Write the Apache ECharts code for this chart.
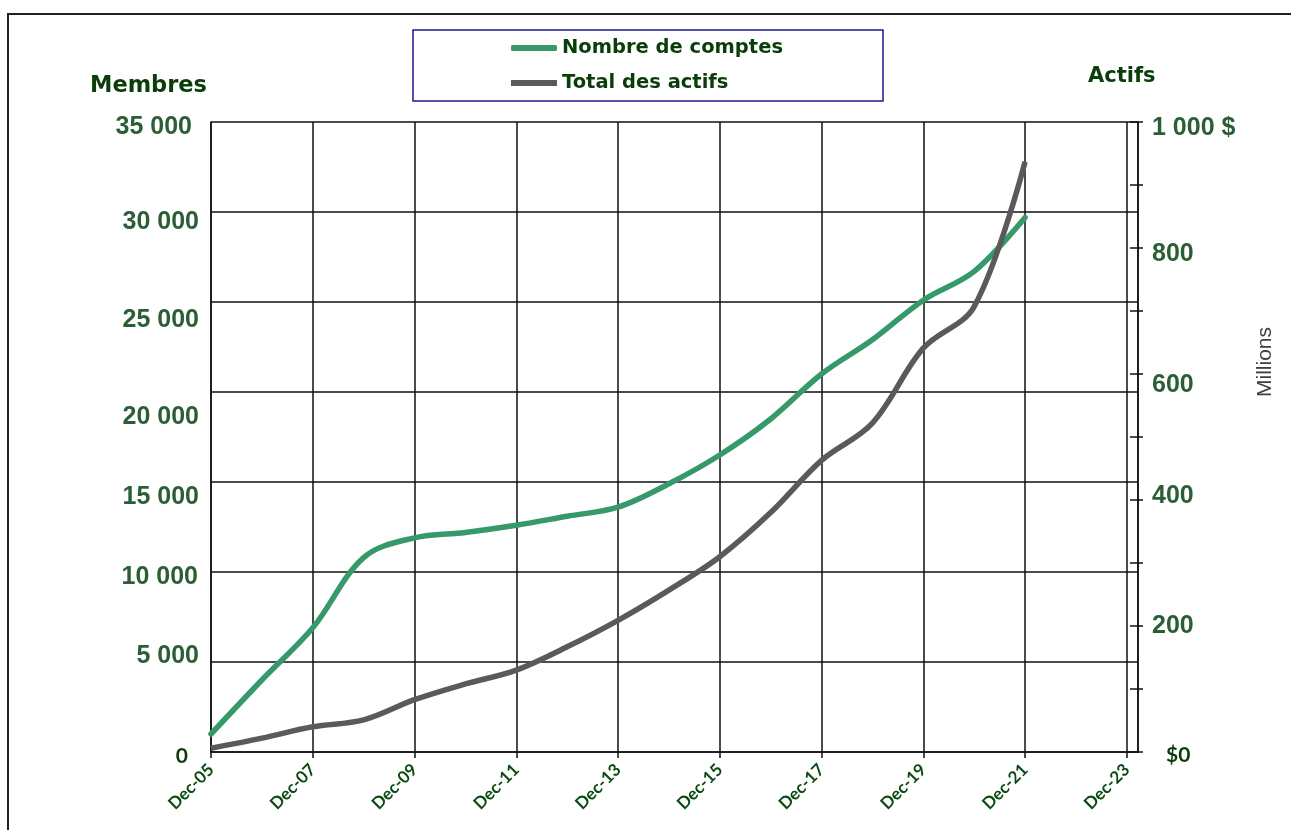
<!DOCTYPE html>
<html>
<head>
<meta charset="utf-8">
<script src="https://cdn.jsdelivr.net/npm/echarts@6/dist/echarts.min.js"></script>
<style>html,body{margin:0;padding:0;background:#fff;}#c{width:1291px;height:830px;}</style>
</head>
<body>
<div id="c"></div>
<script>
const categories = ['Dec-05','Dec-06','Dec-07','Dec-08','Dec-09','Dec-10','Dec-11','Dec-12','Dec-13','Dec-14','Dec-15','Dec-16','Dec-17','Dec-18','Dec-19','Dec-20','Dec-21'];
const comptes = [1000, 4000, 6900, 10800, 11900, 12200, 12600, 13100, 13600, 14900, 16500, 18500, 21000, 22900, 25100, 26700, 29700];
const actifs = [6, 22, 40, 51, 83, 108, 130, 167, 209, 257, 310, 380, 463, 522, 641, 707, 937];
const xTickLabels = ['Dec-05','Dec-07','Dec-09','Dec-11','Dec-13','Dec-15','Dec-17','Dec-19','Dec-21','Dec-23'];
const leftTickLabels = {0:'0',5000:'5 000',10000:'10 000',15000:'15 000',20000:'20 000',25000:'25 000',30000:'30 000',35000:'35 000'};
const rightTickLabels = {0:'$0',200:'200',400:'400',600:'600',800:'800',1000:'1 000 $'};

const chart = echarts.init(document.getElementById('c'));
const gridLine = {show:true, lineStyle:{color:'#111', width:1.5}};
const leftFont = {fontFamily:'Liberation Sans', fontWeight:'bold', fontSize:25, color:'#2b5e34'};
const option = {
  animation:false,
  backgroundColor:'#fff',
  grid:{left:211, right:153, top:122, bottom:78, containLabel:false},
  legend:{
    orient:'vertical', left:506, top:33, itemWidth:46, itemHeight:6, itemGap:15,
    textStyle:{fontFamily:'DejaVu Sans', fontWeight:'bold', fontSize:19.5, color:'#0b3d0b', lineHeight:20},
    data:[{name:'Nombre de comptes', icon:'roundRect'},{name:'Total des actifs', icon:'rect'}]
  },
  xAxis:{
    type:'value', min:0, max:18.22, interval:2,
    axisLine:{show:true, lineStyle:{color:'#111', width:1.5}},
    axisTick:{show:true, length:6, lineStyle:{color:'#111', width:1.5}},
    splitLine:gridLine,
    axisLabel:{
      rotate:45, margin:15, showMaxLabel:false,
      fontFamily:'Lato', fontWeight:'bold', fontSize:17, color:'#0b4a12',
      formatter:function(v){ const k=Math.round(v); if(Math.abs(v-k)>1e-6||k%2) return ''; return xTickLabels[k/2]||''; }
    }
  },
  yAxis:[
    {
      type:'value', min:0, max:35000, interval:5000, position:'left',
      axisLine:{show:true, lineStyle:{color:'#111', width:1.5}},
      axisTick:{show:false},
      splitLine:gridLine,
      axisLabel:{
        margin:12,
        formatter:function(v){ return '{k'+v+'|'+(leftTickLabels[v]||'')+'}'; },
        rich:{
          k35000:Object.assign({padding:[11,7,0,0]}, leftFont),
          k30000:Object.assign({padding:[20,0,0,0]}, leftFont),
          k25000:Object.assign({padding:[36,0,0,0]}, leftFont),
          k20000:Object.assign({padding:[50,0,0,0]}, leftFont),
          k15000:Object.assign({padding:[30,0,0,0]}, leftFont),
          k10000:Object.assign({padding:[10,1,0,0]}, leftFont),
          k5000:Object.assign({padding:[0,0,12,0]}, leftFont),
          k0:{padding:[8,11,0,0], fontFamily:'Lato', fontWeight:'bold', fontSize:21, color:'#0b3d0b'}
        }
      }
    },
    {
      type:'value', min:0, max:1000, interval:100, position:'right',
      axisLine:{show:true, lineStyle:{color:'#111', width:1.5}},
      axisTick:{show:true, length:5, lineStyle:{color:'#111', width:1.5}},
      splitLine:{show:false},
      axisLabel:{
        margin:14,
        formatter:function(v){ const t=rightTickLabels[v]; if(t===undefined) return ''; return '{r'+v+'|'+t+'}'; },
        rich:{
          r1000:Object.assign({padding:[12,0,0,0]}, leftFont),
          r800:Object.assign({padding:[12,0,0,0]}, leftFont),
          r600:Object.assign({padding:[22,0,0,0]}, leftFont),
          r400:Object.assign({padding:[0,0,8,0]}, leftFont),
          r200:Object.assign({}, leftFont),
          r0:{padding:[6,0,0,14], fontFamily:'Lato', fontWeight:'bold', fontSize:21, color:'#0b3d0b'}
        }
      }
    },
    {
      type:'value', min:0, max:1000, interval:100, position:'right',
      axisLine:{show:false},
      axisTick:{show:true, inside:true, length:8, lineStyle:{color:'#111', width:1.5}},
      axisLabel:{show:false},
      splitLine:{show:false}
    }
  ],
  series:[
    {
      name:'Nombre de comptes', type:'line', yAxisIndex:0, smooth:0.35, symbol:'none',
      lineStyle:{color:'#36996a', width:5.5, cap:'round'}, itemStyle:{color:'#36996a'},
      data:categories.map(function(c,i){ return [i, comptes[i]]; })
    },
    {
      name:'Total des actifs', type:'line', yAxisIndex:1, smooth:0.35, symbol:'none',
      lineStyle:{color:'#5a5a5a', width:5.5}, itemStyle:{color:'#5a5a5a'},
      data:categories.map(function(c,i){ return [i, actifs[i]]; })
    }
  ],
  graphic:[
    {type:'polyline', shape:{points:[[8,830],[8,14],[1291,14]]}, style:{stroke:'#222', lineWidth:2, fill:null}, silent:true},
    {type:'rect', shape:{x:413, y:30, width:470, height:71}, style:{stroke:'#1a1a8c', lineWidth:1.5, fill:null}, silent:true},
    {type:'text', x:90, y:86, style:{text:'Membres', fontFamily:'DejaVu Sans', fontWeight:'bold', fontSize:22.5, fill:'#0a3d0a', textVerticalAlign:'middle'}, silent:true},
    {type:'text', x:1088, y:77, style:{text:'Actifs', fontFamily:'DejaVu Sans', fontWeight:'bold', fontSize:21, fill:'#0a3d0a', textVerticalAlign:'middle'}, silent:true},
    {type:'text', x:1265, y:362, rotation:Math.PI/2, style:{text:'Millions', fontFamily:'Liberation Sans', fontSize:21, fill:'#404040', textAlign:'center', textVerticalAlign:'middle'}, silent:true}
  ]
};
chart.setOption(option);
</script>
</body>
</html>
